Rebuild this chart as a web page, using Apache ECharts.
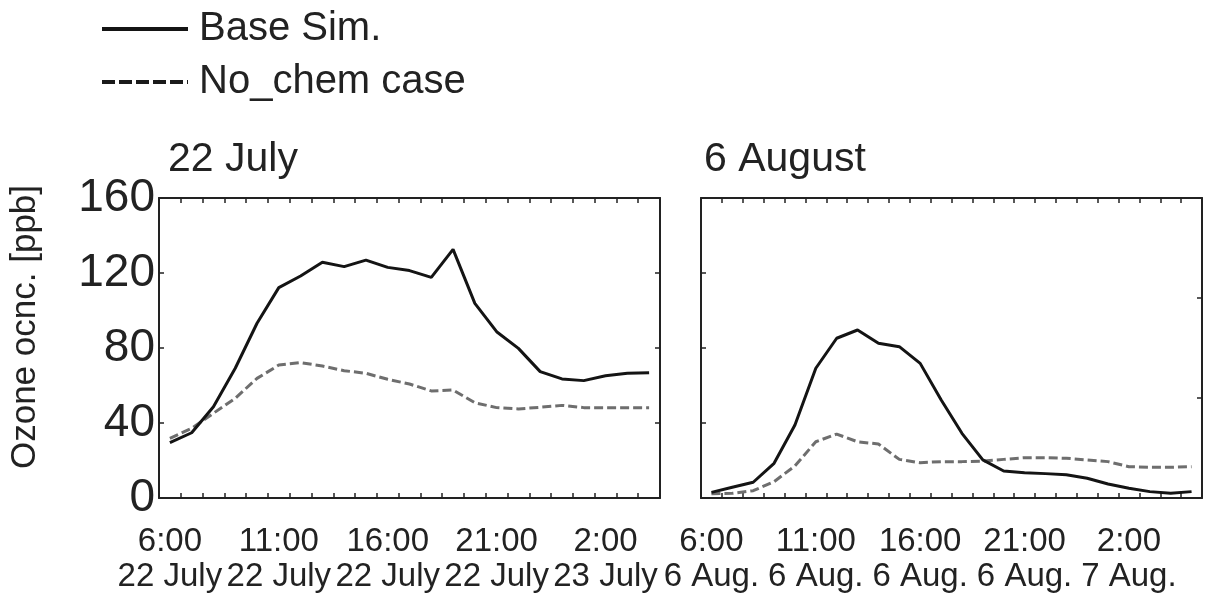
<!DOCTYPE html>
<html>
<head>
<meta charset="utf-8">
<script src="https://cdn.jsdelivr.net/npm/echarts@6/dist/echarts.min.js"></script>
<style>
html,body{margin:0;padding:0;background:#fff;}
#chart{width:1208px;height:602px;}
</style>
</head>
<body>
<div id="chart"></div>
<script>
// ---- data ----
const julyTimes = ['6:00','7:00','8:00','9:00','10:00','11:00','12:00','13:00','14:00','15:00','16:00','17:00','18:00','19:00','20:00','21:00','22:00','23:00','0:00','1:00','2:00','3:00','4:00'];
const julyDates = ['22 July','22 July','22 July','22 July','22 July','22 July','22 July','22 July','22 July','22 July','22 July','22 July','22 July','22 July','22 July','22 July','22 July','22 July','23 July','23 July','23 July','23 July','23 July'];
const julyBase = [29.5,34.8,48.7,69.2,93.2,112.2,118.4,125.7,123.4,126.9,123.0,121.3,117.7,132.6,103.8,88.7,79.8,67.4,63.5,62.6,65.2,66.5,66.8];
const julyNoChem = [31.8,37.2,45.2,53.2,63.8,70.9,72.2,70.4,67.9,66.5,63.3,60.8,57.1,57.6,50.8,48.2,47.5,48.4,49.4,48.2,48.2,48.2,48.2];

const augTimes = ['6:00','7:00','8:00','9:00','10:00','11:00','12:00','13:00','14:00','15:00','16:00','17:00','18:00','19:00','20:00','21:00','22:00','23:00','0:00','1:00','2:00','3:00','4:00','5:00'];
const augDates = ['6 Aug.','6 Aug.','6 Aug.','6 Aug.','6 Aug.','6 Aug.','6 Aug.','6 Aug.','6 Aug.','6 Aug.','6 Aug.','6 Aug.','6 Aug.','6 Aug.','6 Aug.','6 Aug.','6 Aug.','6 Aug.','7 Aug.','7 Aug.','7 Aug.','7 Aug.','7 Aug.','7 Aug.'];
const augBase = [3.0,5.7,8.4,18.5,38.9,69.2,85.2,89.6,82.5,80.7,71.8,52.4,34.5,20.3,14.4,13.5,13.0,12.4,10.5,7.5,5.2,3.4,2.5,3.4];
const augNoChem = [2.3,2.5,3.9,8.7,17.1,30.0,34.1,30.0,28.8,20.6,18.8,19.4,19.4,19.7,20.6,21.5,21.5,21.2,20.3,19.4,16.7,16.4,16.4,16.7];

const yTicks = {min:0, max:160, interval:40};
const panelTitles = ['22 July','6 August'];
const seriesNames = ['Base Sim.','No_chem case'];
const yName = 'Ozone ocnc. [ppb]';

// ---- styles ----
const FONT = 'Liberation Sans, Arial, sans-serif';
const INK = '#222';
const frameLine = {show:true, onZero:false, lineStyle:{color:INK, width:2}};
const tickIn = {show:true, inside:true, length:5, lineStyle:{color:INK, width:1.5}};
const solidStyle = {color:'#141414', width:3, type:'solid'};
const dashStyle = {color:'#6e6e6e', width:3, type:[9,4]};

const grids = [
  {left:159, top:198, width:501, height:300},
  {left:701, top:198, width:501, height:300}
];

function bottomX(gi, cats, dates){
  return {type:'category', gridIndex:gi, position:'bottom', data:cats, boundaryGap:true,
    axisLine:frameLine, axisTick:Object.assign({interval:0}, tickIn),
    axisLabel:{interval:4, margin:26, fontSize:33, lineHeight:35, color:INK, fontFamily:FONT,
      formatter:(v,i)=> v + '\n' + dates[i]}};
}
function topX(gi, cats){
  return {type:'category', gridIndex:gi, position:'top', data:cats, boundaryGap:true,
    axisLine:frameLine, axisTick:Object.assign({interval:0}, tickIn), axisLabel:{show:false}};
}

const option = {
  animation:false,
  backgroundColor:'#fff',
  legend:{
    orient:'vertical', left:100, top:9, padding:0, itemWidth:86, itemHeight:20, itemGap:13,
    data:[
      {name:seriesNames[0], lineStyle:{width:4, type:'solid', color:'#141414'}},
      {name:seriesNames[1], lineStyle:{width:4, type:[13,4], color:'#1a1a1a'}}
    ],
    itemStyle:{opacity:0},
    textStyle:{fontSize:40, color:INK, fontFamily:FONT, padding:[0,0,0,6]}
  },
  title:[
    {text:panelTitles[0], left:168, top:139, padding:0, textStyle:{fontSize:41, fontWeight:'normal', color:INK, fontFamily:FONT}},
    {text:panelTitles[1], left:704, top:139, padding:0, textStyle:{fontSize:41, fontWeight:'normal', color:INK, fontFamily:FONT}}
  ],
  grid:grids,
  xAxis:[
    bottomX(0, julyTimes, julyDates), topX(0, julyTimes),
    bottomX(1, augTimes, augDates), topX(1, augTimes)
  ],
  yAxis:[
    {type:'value', gridIndex:0, position:'left', min:yTicks.min, max:yTicks.max, interval:yTicks.interval,
      axisLine:frameLine, axisTick:tickIn, splitLine:{show:false},
      axisLabel:{fontSize:46, margin:4, color:INK, fontFamily:FONT},
      name:yName, nameLocation:'middle', nameRotate:90, nameGap:116,
      nameTextStyle:{fontSize:35, color:INK, fontFamily:FONT, padding:[0,0,0,42]}},
    {type:'value', gridIndex:0, position:'right', min:yTicks.min, max:yTicks.max, interval:yTicks.interval,
      axisLine:frameLine, axisTick:tickIn, splitLine:{show:false}, axisLabel:{show:false}},
    {type:'value', gridIndex:1, position:'left', min:yTicks.min, max:yTicks.max, interval:yTicks.interval,
      axisLine:frameLine, axisTick:tickIn, splitLine:{show:false}, axisLabel:{show:false}},
    {type:'value', gridIndex:1, position:'right', min:0, max:3, interval:1,
      axisLine:frameLine, axisTick:tickIn, splitLine:{show:false}, axisLabel:{show:false}}
  ],
  series:[
    {name:seriesNames[0], type:'line', xAxisIndex:0, yAxisIndex:0, data:julyBase, symbol:'none', lineStyle:solidStyle, itemStyle:{color:solidStyle.color}, z:3},
    {name:seriesNames[1], type:'line', xAxisIndex:0, yAxisIndex:0, data:julyNoChem, symbol:'none', lineStyle:dashStyle, itemStyle:{color:dashStyle.color}, z:2},
    {name:seriesNames[0], type:'line', xAxisIndex:2, yAxisIndex:2, data:augBase, symbol:'none', lineStyle:solidStyle, itemStyle:{color:solidStyle.color}, z:3},
    {name:seriesNames[1], type:'line', xAxisIndex:2, yAxisIndex:2, data:augNoChem, symbol:'none', lineStyle:dashStyle, itemStyle:{color:dashStyle.color}, z:2}
  ]
};

const chart = echarts.init(document.getElementById('chart'), null, {renderer:'canvas'});
chart.setOption(option);
</script>
</body>
</html>
